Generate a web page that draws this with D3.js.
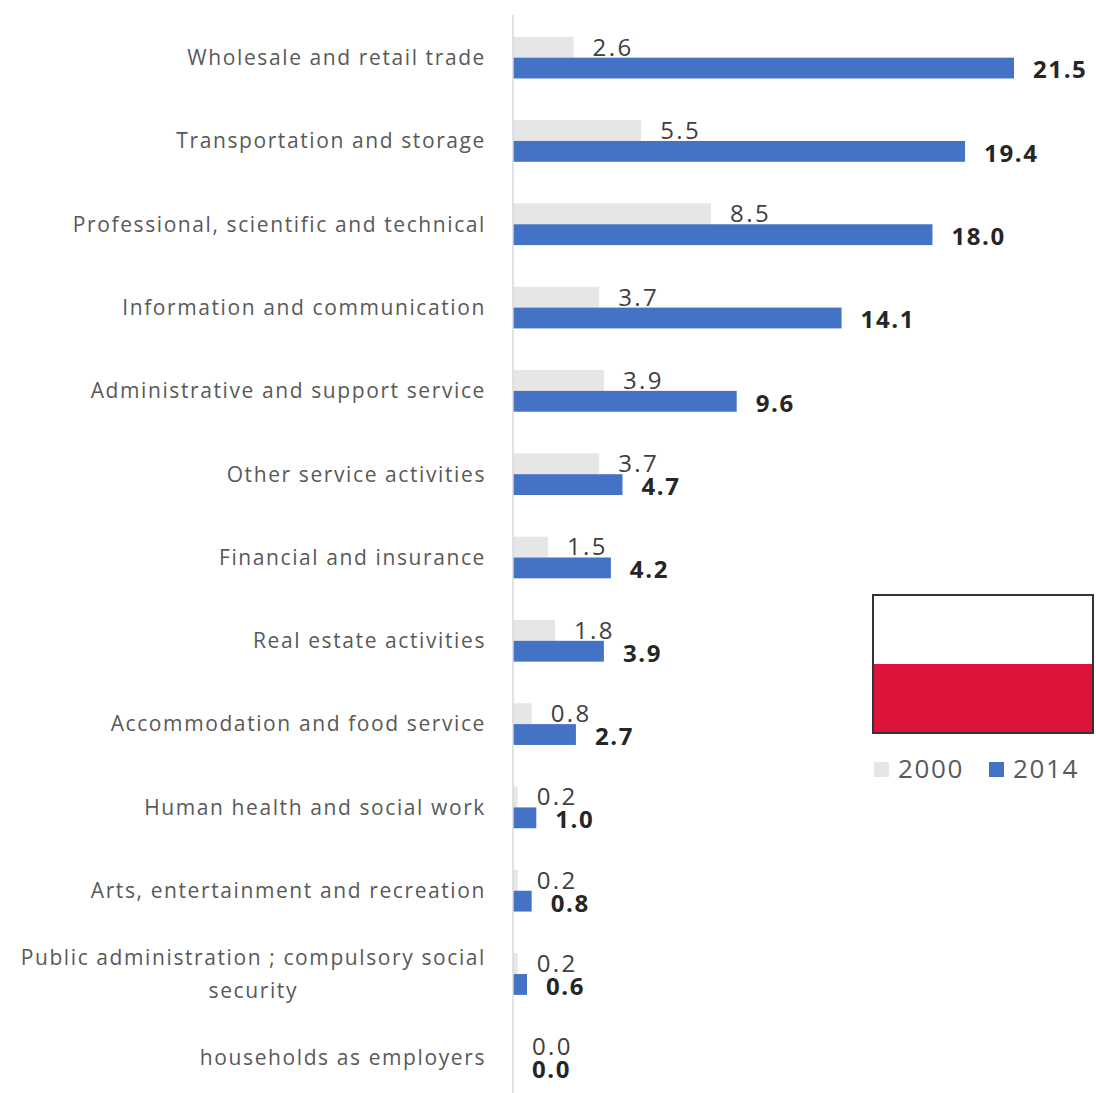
<!DOCTYPE html>
<html>
<head>
<meta charset="utf-8">
<script src="https://cdn.jsdelivr.net/npm/d3@7"></script>
<style>
body { margin: 0; background: #fff; }
text { font-family: "Open Sans", "Noto Sans", sans-serif; }
</style>
</head>
<body>
<div id="chart"></div>
<script>
// categories, top to bottom
const categories = [
  "Wholesale and retail trade",
  "Transportation and storage",
  "Professional, scientific and technical",
  "Information and communication",
  "Administrative and support service",
  "Other service activities",
  "Financial and insurance",
  "Real estate activities",
  "Accommodation and food service",
  "Human health and social work",
  "Arts, entertainment and recreation",
  "Public administration ; compulsory social security",
  "households as employers"
];
const series = ["2000", "2014"];
const values2000 = [2.6, 5.5, 8.5, 3.7, 3.9, 3.7, 1.5, 1.8, 0.8, 0.2, 0.2, 0.2, 0.0];
const values2014 = [21.5, 19.4, 18.0, 14.1, 9.6, 4.7, 4.2, 3.9, 2.7, 1.0, 0.8, 0.6, 0.0];
const colors = {"2000": "#e6e6e6", "2014": "#4472c4"};

const w = 1096, h = 1093;
const svg = d3.select("#chart").append("svg")
  .attr("width", w).attr("height", h);

// scales
const xScale = d3.scaleLinear().domain([0, 21.5]).range([513, 1014]);
const yScale = d3.scaleBand().domain(categories)
  .range([16, 1099]).paddingInner(0.5).paddingOuter(0.25);
const ySub = d3.scaleBand().domain(series).range([0, yScale.bandwidth()]);

const rows = categories.map((c, i) => ({cat: c, v: {"2000": values2000[i], "2014": values2014[i]}}));

// bars
const g = svg.append("g");
series.forEach(s => {
  g.selectAll("rect.s" + s)
    .data(rows)
    .enter()
    .append("rect")
    .attr("class", "s" + s)
    .attr("x", xScale(0))
    .attr("y", d => yScale(d.cat) + ySub(s))
    .attr("width", d => xScale(d.v[s]) - xScale(0))
    .attr("height", ySub.bandwidth())
    .attr("fill", colors[s]);
});

// axis line (left)
const yAxis = d3.axisLeft(yScale).tickSize(0).tickFormat("");
svg.append("g")
  .attr("transform", "translate(" + xScale(0) + ",0)")
  .call(yAxis)
  .call(a => a.select(".domain").attr("stroke", "#d9d9d9").attr("stroke-width", 1.5)
    .attr("d", "M0,15V1093"));

// value labels
series.forEach(s => {
  g.selectAll("text.l" + s)
    .data(rows)
    .enter()
    .append("text")
    .attr("x", d => xScale(d.v[s]) + 19)
    .attr("y", d => yScale(d.cat) + ySub(s) + ySub.bandwidth() / 2 + (s === "2000" ? 0 : 2))
    .attr("dy", "0.35em")
    .attr("font-size", 24)
    .attr("letter-spacing", s === "2014" ? 1.6 : 2.4)
    .attr("font-weight", s === "2014" ? "bold" : "normal")
    .attr("fill", s === "2014" ? "#262626" : "#404040")
    .text(d => d3.format(".1f")(d.v[s]));
});

// category labels
const labelX = 486;
const catFont = 21, catSpacing = 1.6;
rows.forEach(d => {
  const cy = yScale(d.cat) + yScale.bandwidth() / 2;
  if (d.cat.startsWith("Public")) {
    const t1 = svg.append("text")
      .attr("x", labelX).attr("y", cy - 16).attr("dy", "0.35em")
      .attr("text-anchor", "end").attr("font-size", catFont).attr("fill", "#595959")
      .attr("letter-spacing", catSpacing)
      .text("Public administration ; compulsory social");
    const len = t1.node().getComputedTextLength();
    svg.append("text")
      .attr("x", labelX - len / 2).attr("y", cy + 17).attr("dy", "0.35em")
      .attr("text-anchor", "middle").attr("font-size", catFont).attr("fill", "#595959")
      .attr("letter-spacing", catSpacing)
      .text("security");
  } else {
    svg.append("text")
      .attr("x", labelX).attr("y", cy).attr("dy", "0.35em")
      .attr("text-anchor", "end").attr("font-size", catFont).attr("fill", "#595959")
      .attr("letter-spacing", catSpacing)
      .text(d.cat);
  }
});

// flag of Poland
const flag = svg.append("g");
flag.append("rect").attr("x", 873).attr("y", 595).attr("width", 220).attr("height", 69).attr("fill", "#ffffff");
flag.append("rect").attr("x", 873).attr("y", 664).attr("width", 220).attr("height", 69).attr("fill", "#dc143c");
flag.append("rect").attr("x", 873).attr("y", 595).attr("width", 220).attr("height", 138)
  .attr("fill", "none").attr("stroke", "#333").attr("stroke-width", 2);

// legend
const legend = svg.append("g").attr("transform", "translate(874,769)");
const legX = [0, 115];
series.forEach((s, i) => {
  legend.append("rect").attr("x", legX[i]).attr("y", -7).attr("width", 15).attr("height", 15).attr("fill", colors[s]);
  legend.append("text").attr("x", legX[i] + 24).attr("y", 0).attr("dy", "0.35em")
    .attr("font-size", 26).attr("letter-spacing", 1.6).attr("fill", "#595959").text(s);
});
</script>
</body>
</html>
